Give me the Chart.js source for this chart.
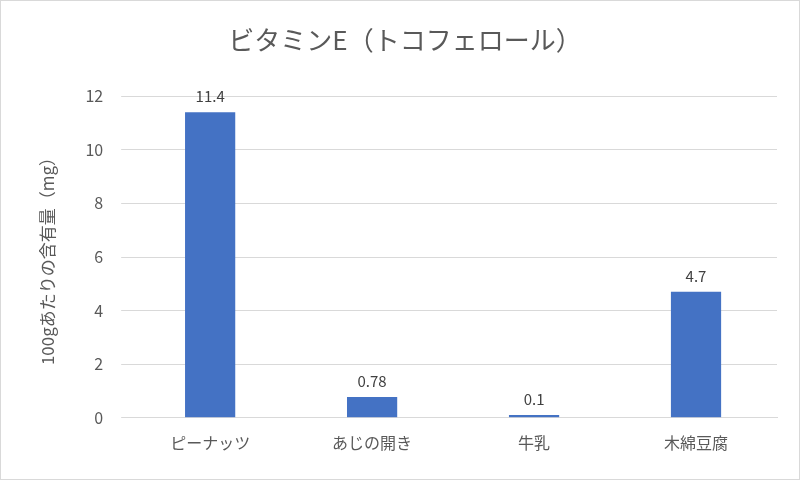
<!DOCTYPE html>
<html><head><meta charset="utf-8">
<script src="https://cdn.jsdelivr.net/npm/chart.js@4"></script>
<style>
body{margin:0;background:#fff;}
#wrap{width:798px;height:478px;border:1px solid #d9d9d9;}
</style></head>
<body><div id="wrap"><canvas id="c" width="798" height="478"></canvas></div>
<script>
const categories = ["ピーナッツ", "あじの開き", "牛乳", "木綿豆腐"];
const values = [11.4, 0.78, 0.1, 4.7];
const yTicks = [0, 2, 4, 6, 8, 10, 12];
const font = "'Noto Sans CJK JP', 'Noto Sans', sans-serif";

const valueLabels = {
    id: "valueLabels",
    afterDatasetsDraw(chart) {
        const ctx = chart.ctx;
        const meta = chart.getDatasetMeta(0);
        ctx.save();
        ctx.font = "15px " + font;
        ctx.fillStyle = "#404040";
        ctx.textAlign = "center";
        ctx.textBaseline = "bottom";
        meta.data.forEach((bar, i) => {
            ctx.fillText(String(values[i]), bar.x, bar.y - 8);
        });
        ctx.restore();
    },
};

new Chart(document.getElementById("c"), {
    type: "bar",
    data: {
        labels: categories,
        datasets: [{
            data: values,
            backgroundColor: "#4472c4",
            barPercentage: 0.31,
            categoryPercentage: 1,
        }],
    },
    options: {
        responsive: false,
        animation: false,
        layout: { padding: { top: 12, right: 22, left: 32, bottom: 18 } },
        plugins: {
            legend: { display: false },
            tooltip: { enabled: false },
            title: {
                display: true,
                text: "ビタミンE（トコフェロール）",
                color: "#595959",
                font: { size: 26, family: font, weight: "normal" },
                padding: { top: 12, bottom: 40 },
            },
        },
        scales: {
            x: {
                grid: { display: false },
                border: { color: "#d9d9d9" },
                ticks: { color: "#595959", font: { size: 16, family: font }, padding: 8 },
            },
            y: {
                min: 0,
                max: 12,
                afterBuildTicks: (axis) => { axis.ticks = yTicks.map((v) => ({ value: v })); },
                grid: { color: "#d9d9d9" },
                border: { display: false },
                ticks: { color: "#595959", font: { size: 16, family: font }, padding: 18 },
                title: {
                    display: true,
                    text: "100gあたりの含有量（mg）",
                    color: "#595959",
                    font: { size: 17, family: font },
                    padding: { bottom: 10 },
                },
            },
        },
    },
    plugins: [valueLabels],
});
</script></body></html>
